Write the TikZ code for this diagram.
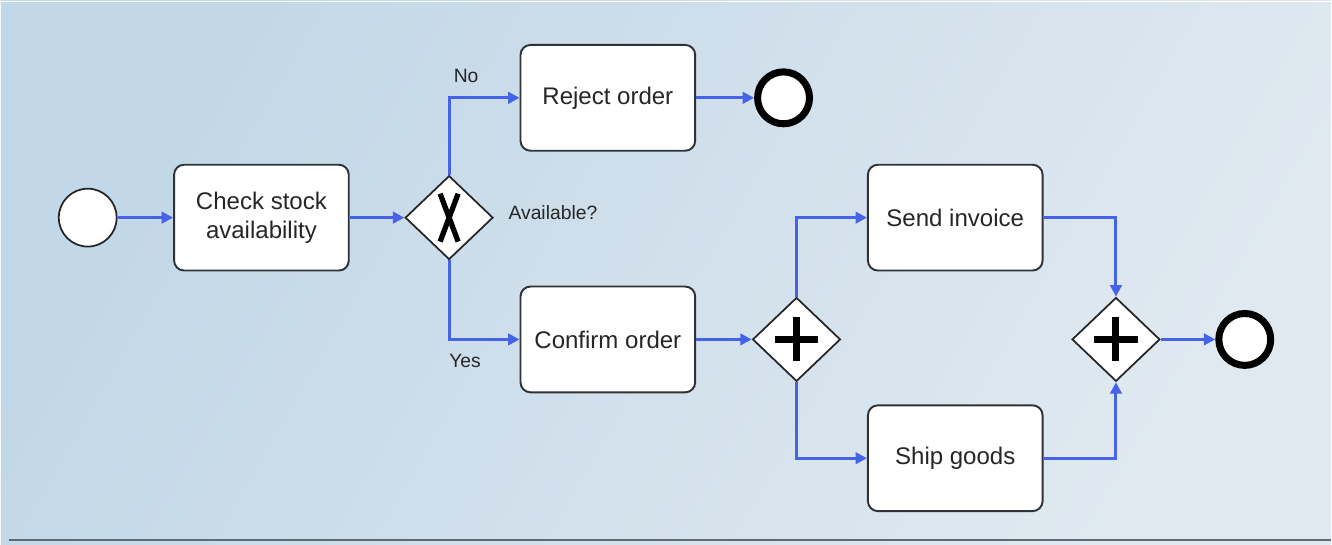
\documentclass[tikz,border=0pt]{standalone}
\usepackage{fontspec}
\setmainfont{Liberation Sans}
\usetikzlibrary{shapes.geometric,arrows.meta}

\definecolor{bgA}{HTML}{C2D7E7}
\definecolor{bgB}{HTML}{E0E9F0}
\definecolor{flowblue}{HTML}{4563E6}
\definecolor{boxline}{HTML}{2E3338}
\definecolor{rimgray}{HTML}{5E6A74}

\tikzset{
	task/.style={shape=rectangle, rounded corners=0.2cm, draw=boxline, line width=1.1pt, fill=white,
		minimum width=3.5cm, minimum height=2.12cm, align=center,
		font=\fontsize{13.7}{16.5}\selectfont, text=black!85},
	gateway/.style={shape=diamond, draw=black!85, line width=1pt, fill=white,
		minimum width=1.76cm, minimum height=1.68cm, inner sep=0pt},
	startev/.style={shape=circle, draw=black!85, line width=1pt, fill=white, minimum size=1.16cm, inner sep=0pt},
	endev/.style={shape=circle, draw=black, line width=4pt, fill=white, minimum size=1.04cm, inner sep=0pt},
	flow/.style={draw=flowblue, line width=1.7pt, -{Triangle[length=6.5pt,width=6.5pt]}},
	lbl/.style={font=\fontsize{11}{13}\selectfont, text=black!85}
}

\begin{document}
\begin{tikzpicture}[x=0.02cm, y=-0.02cm]
	% background
	\shade[left color=bgA, right color=bgB, shading angle=60] (0,0) rectangle (1332,545);
	\draw[white, line width=1pt] (0,1.5) -- (1332,1.5);
	\draw[rimgray, line width=1.6pt] (8,541) -- (1332,541);

	\node[startev] (startev) at (87, 218)   {};
	\node[task] (check)      at (261, 218)  {Check stock\\availability};
	\node[gateway] (avail)   at (449, 218)  {};
	\node[task] (reject)     at (608, 98)   {Reject order};
	\node[endev] (endreject) at (784, 98)   {};
	\node[task] (confirm)    at (608, 340)  {Confirm order};
	\node[gateway] (fork)    at (797, 340)  {};
	\node[task] (invoice)    at (956, 218)  {Send invoice};
	\node[task] (ship)       at (956, 459)  {Ship goods};
	\node[gateway] (join)    at (1117, 340) {};
	\node[endev] (endship)   at (1246, 340) {};

	\node[lbl] (no)    at (466, 76)  {No};
	\node[lbl] (yes)   at (465, 362) {Yes};
	\node[lbl] (quest) at (553, 213) {Available?};

	% gateway marks
	\draw[line width=3pt, shift={(avail.center)}] (-9,-24) -- (9,24) (9,-24) -- (-9,24);
	\draw[line width=4pt, shift={(fork.center)}] (-22,0) -- (22,0) (0,-22) -- (0,22);
	\draw[line width=4pt, shift={(join.center)}] (-22,0) -- (22,0) (0,-22) -- (0,22);

	\draw[flow] (startev) -- (check);
	\draw[flow] (check) -- (avail);
	\draw[flow] (avail.north) |- (reject);
	\draw[flow] (avail.south) |- (confirm);
	\draw[flow] (reject) -- (endreject);
	\draw[flow] (confirm) -- (fork);
	\draw[flow] (fork.north) |- (invoice);
	\draw[flow] (fork.south) |- (ship);
	\draw[flow] (invoice) -| (join.north);
	\draw[flow] (ship) -| (join.south);
	\draw[flow] (join) -- (endship);
\end{tikzpicture}
\end{document}
